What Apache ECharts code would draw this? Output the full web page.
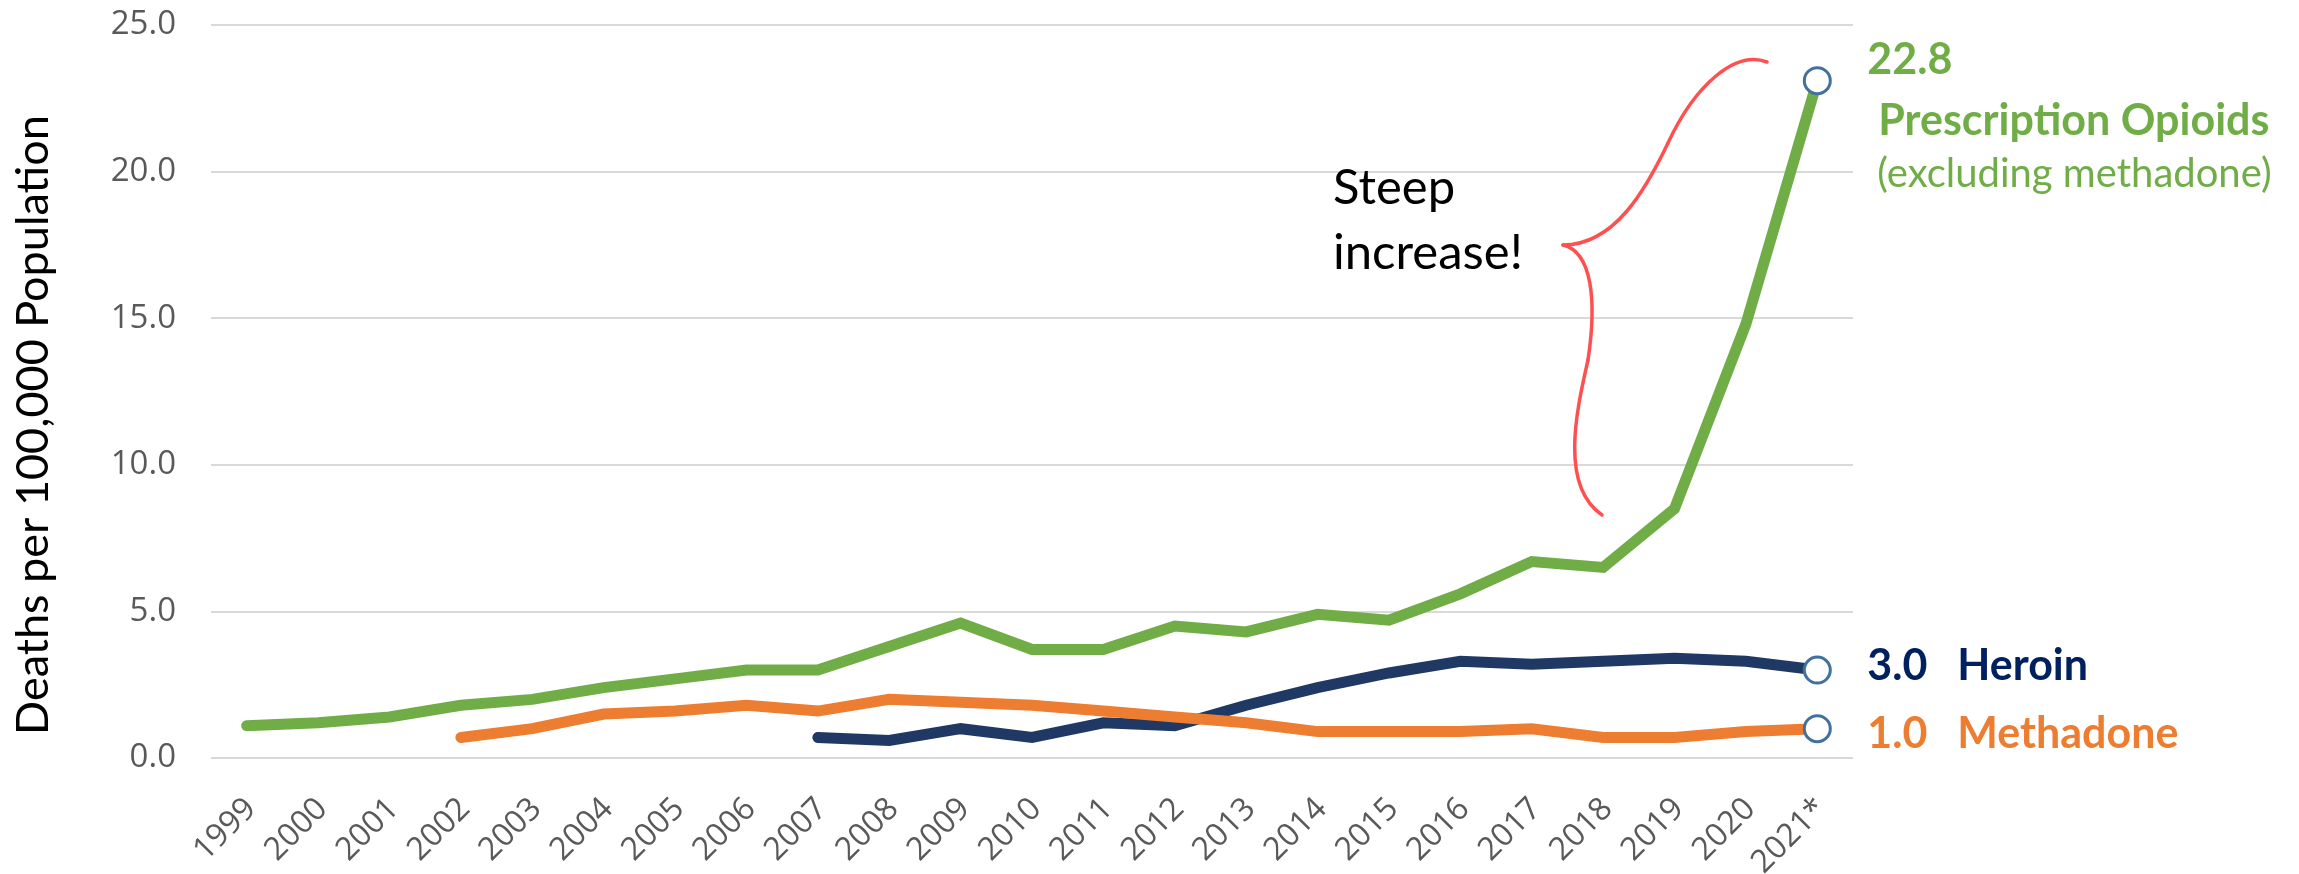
<!DOCTYPE html>
<html>
<head>
<meta charset="utf-8">
<script src="https://cdn.jsdelivr.net/npm/echarts@6/dist/echarts.min.js"></script>
<style>
html,body{margin:0;padding:0;background:#ffffff;}
#chart{width:2299px;height:874px;}
</style>
</head>
<body>
<div id="chart"></div>
<script>
// ---- data ----
const years = ['1999','2000','2001','2002','2003','2004','2005','2006','2007','2008','2009','2010','2011','2012','2013','2014','2015','2016','2017','2018','2019','2020','2021*'];
const prescription = [1.1,1.2,1.4,1.8,2.0,2.4,2.7,3.0,3.0,3.8,4.6,3.7,3.7,4.5,4.3,4.9,4.7,5.6,6.7,6.5,8.5,14.8,23.1];
const heroin = ['-','-','-','-','-','-','-','-',0.7,0.6,1.0,0.7,1.2,1.1,1.8,2.4,2.9,3.3,3.2,3.3,3.4,3.3,3.0];
const methadone = ['-','-','-',0.7,1.0,1.5,1.6,1.8,1.6,2.0,1.9,1.8,1.6,1.4,1.2,0.9,0.9,0.9,1.0,0.7,0.7,0.9,1.0];
const yTicks = [0,5,10,15,20,25];
const endValueLabels = {prescription:'22.8', heroin:'3.0', methadone:'1.0'};
const seriesNames = {prescription:'Prescription Opioids', heroin:'Heroin', methadone:'Methadone'};
const prescriptionNote = '(excluding methadone)';
const yTitle = 'Deaths per 100,000 Population';
const annotation = ['Steep', 'increase!'];

const colors = {prescription:'#70AD47', heroin:'#203864', methadone:'#ED7D31'};
const labelColors = {prescription:'#70AD47', heroin:'#002060', methadone:'#ED7D31'};

const chart = echarts.init(document.getElementById('chart'), null, {renderer:'canvas'});
const lastIdx = years.length - 1;

function withEndCircle(arr){
  return arr.map((v,i)=> i===lastIdx ? {value:v, symbol:'circle', symbolSize:26,
    itemStyle:{color:'#ffffff', borderColor:'#41719C', borderWidth:3, opacity:1}} : v);
}
function lineSeries(name, arr, color, z){
  return {
    type:'line', name:name, data:withEndCircle(arr), z:z,
    symbol:'circle', symbolSize:0, showSymbol:true, showAllSymbol:true,
    itemStyle:{color:color, borderWidth:0},
    lineStyle:{color:color, width:11, cap:'round', join:'miter'},
    connectNulls:false, silent:true, animation:false,
    emphasis:{disabled:true}
  };
}

chart.setOption({
  animation:false,
  backgroundColor:'#ffffff',
  grid:{left:211, right:446, top:25, bottom:116, containLabel:false, outerBoundsMode:'none'},
  xAxis:{
    type:'category', data:years, boundaryGap:true,
    axisLine:{show:false}, axisTick:{show:false},
    axisLabel:{rotate:45, interval:0, margin:50, color:'#595959', fontFamily:'Open Sans', fontSize:32,
      padding:[0,-6,0,0]}
  },
  yAxis:{
    type:'value', min:yTicks[0], max:yTicks[yTicks.length-1], interval:5,
    axisLine:{show:false}, axisTick:{show:false},
    axisLabel:{margin:35, color:'#595959', fontFamily:'Open Sans', fontSize:33, formatter:v=>v.toFixed(1)},
    splitLine:{lineStyle:{color:'#D9D9D9', width:2}}
  },
  series:[
    lineSeries(seriesNames.heroin, heroin, colors.heroin, 2),
    lineSeries(seriesNames.methadone, methadone, colors.methadone, 3),
    lineSeries(seriesNames.prescription, prescription, colors.prescription, 4)
  ]
});

function txt(text, x, baselineY, size, weight, color){
  const fs = size;
  return {
    type:'text', x:x, y:baselineY - 0.3225*fs, silent:true, z:100,
    style:{text:text, fill:color, fontFamily:'Lato', fontSize:fs, fontWeight:weight,
      align:'left', verticalAlign:'middle', textAlign:'left', textVerticalAlign:'middle'}
  };
}
function curve(p){
  return {
    type:'bezierCurve', silent:true, z:90,
    shape:{x1:p[0], y1:p[1], cpx1:p[2], cpy1:p[3], cpx2:p[4], cpy2:p[5], x2:p[6], y2:p[7]},
    style:{fill:null, stroke:'#FF5050', lineWidth:3.5, lineCap:'round'}
  };
}

const pP = chart.convertToPixel({gridIndex:0}, [lastIdx, prescription[lastIdx]]);
const pH = chart.convertToPixel({gridIndex:0}, [lastIdx, heroin[lastIdx]]);
const pM = chart.convertToPixel({gridIndex:0}, [lastIdx, methadone[lastIdx]]);

const graphics = [
  txt(endValueLabels.prescription, pP[0]+50, pP[1]-7, 43, 'bold', labelColors.prescription),
  txt(seriesNames.prescription, pP[0]+61, pP[1]+54, 43, 'bold', labelColors.prescription),
  txt(prescriptionNote, pP[0]+60, pP[1]+106, 40, 'normal', labelColors.prescription),
  txt(endValueLabels.heroin, pH[0]+50, pH[1]+10, 43, 'bold', labelColors.heroin),
  txt(seriesNames.heroin, pH[0]+140, pH[1]+10, 43, 'bold', labelColors.heroin),
  txt(endValueLabels.methadone, pM[0]+50, pM[1]+19, 43, 'bold', labelColors.methadone),
  txt(seriesNames.methadone, pM[0]+140, pM[1]+19, 43, 'bold', labelColors.methadone),
  txt(annotation[0], 1333, 204, 49, 'normal', '#000000'),
  txt(annotation[1], 1333, 269, 49, 'normal', '#000000'),
  {
    type:'text', x:33.5, y:425, rotation:Math.PI/2, silent:true, z:100,
    style:{text:yTitle, fill:'#000000', fontFamily:'Lato', fontSize:45,
      align:'center', verticalAlign:'middle', textAlign:'center', textVerticalAlign:'middle'}
  },
  curve([1767,62, 1735,50, 1695,85, 1668,143]),
  curve([1668,143, 1646,189, 1615,245, 1563,245]),
  curve([1563,245, 1592,252, 1597,300, 1588,360]),
  curve([1588,360, 1578,405, 1558,485, 1602,515])
];
chart.setOption({graphic:{elements:graphics}});
</script>
</body>
</html>
